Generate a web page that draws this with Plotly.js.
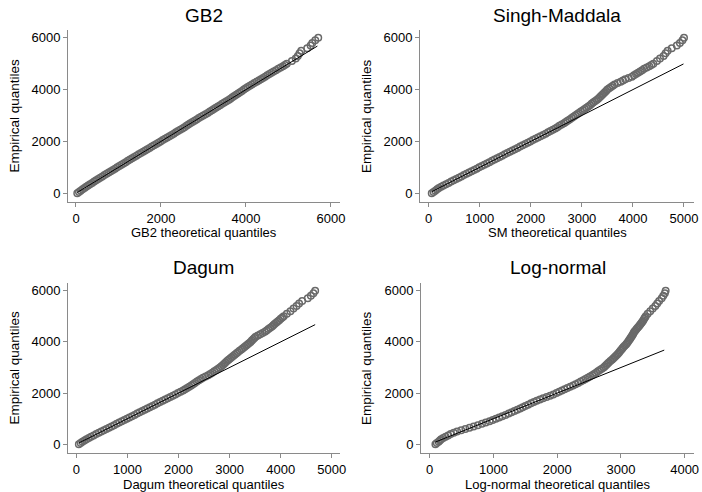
<!DOCTYPE html>
<html>
<head>
<meta charset="utf-8">
<script src="https://cdn.plot.ly/plotly-3.0.1.min.js"></script>
<style>html,body{margin:0;padding:0;background:#fff;}#chart{width:702px;height:492px;}</style>
</head>
<body>
<div id="chart"></div>
<script>
// Empirical quantiles (shared by all four panels)
const empiricalQ = [
  0,50,100,150,200,250,300,350,400,450,500,550,600,650,700,750,800,850,900,950,
  1000,1050,1100,1150,1200,1250,1300,1350,1400,1450,1500,1550,1600,1650,1700,1750,1800,1850,1900,1950,
  2000,2050,2100,2150,2200,2250,2300,2350,2400,2450,2500,2550,2600,2650,2700,2750,2800,2850,2900,2950,
  3000,3050,3100,3150,3200,3250,3300,3350,3400,3450,3500,3550,3600,3650,3700,3750,3800,3850,3900,3950,
  4000,4050,4100,4150,4200,4250,4300,4350,4400,4450,4500,4550,4600,4650,4700,4750,4800,4850,4900,4950,
  5000,5100,5200,5300,5400,5500,5600,5700,5800,5900,6000];

// Theoretical quantiles
const gb2Q = [
  30,70,110,155,200,240,285,330,380,428,475,522,570,620,670,720,770,820,870,920,
  970,1020,1070,1120,1170,1220,1270,1320,1370,1422,1475,1528,1580,1630,1680,1732,1785,1838,1890,1940,
  1990,2042,2095,2148,2200,2250,2300,2350,2400,2452,2505,2552,2600,2645,2690,2740,2790,2840,2890,2942,
  2995,3048,3100,3150,3200,3245,3290,3340,3390,3440,3490,3540,3590,3635,3680,3725,3770,3815,3860,3905,
  3950,3995,4040,4090,4140,4195,4250,4300,4350,4400,4450,4500,4550,4600,4650,4705,4760,4815,4870,4915,
  4960,5080,5170,5220,5260,5300,5440,5520,5560,5630,5700];
const smQ = [
  60,95,130,165,200,245,290,340,390,440,490,540,590,640,690,740,790,840,890,940,
  990,1040,1090,1140,1190,1240,1290,1340,1390,1440,1490,1540,1590,1640,1690,1740,1790,1840,1890,1940,
  1990,2040,2090,2140,2190,2240,2290,2338,2385,2432,2480,2520,2560,2605,2650,2685,2720,2760,2800,2835,
  2870,2905,2940,2980,3020,3055,3090,3125,3160,3190,3220,3255,3290,3320,3350,3375,3400,3425,3450,3475,
  3500,3535,3570,3605,3640,3700,3760,3805,3850,3915,3980,4020,4060,4100,4140,4180,4220,4270,4320,4360,
  4400,4470,4530,4600,4640,4680,4760,4860,4920,4970,5000];
const dagumQ = [
  50,85,120,160,200,245,290,340,390,440,490,540,590,640,690,740,790,840,890,940,
  990,1040,1090,1140,1190,1240,1290,1340,1390,1440,1490,1540,1590,1640,1690,1740,1790,1840,1890,1940,
  1990,2040,2090,2130,2170,2210,2250,2285,2320,2360,2400,2440,2480,2530,2580,2620,2660,2700,2740,2775,
  2810,2840,2870,2895,2920,2950,2980,3010,3040,3070,3100,3130,3160,3195,3230,3260,3290,3320,3350,3380,
  3410,3435,3460,3485,3510,3555,3600,3645,3690,3725,3760,3795,3830,3855,3880,3910,3940,3970,4000,4030,
  4060,4120,4190,4250,4310,4360,4420,4530,4590,4640,4674];
const lognormQ = [
  90,112,140,160,180,212,250,290,330,378,430,495,560,625,690,755,820,880,940,990,
  1040,1090,1140,1190,1240,1285,1330,1375,1420,1460,1500,1545,1590,1635,1680,1730,1780,1835,1890,1940,
  1990,2032,2075,2118,2160,2205,2250,2290,2330,2370,2410,2445,2480,2515,2550,2580,2610,2640,2670,2700,
  2730,2750,2770,2790,2810,2835,2860,2880,2900,2920,2940,2958,2975,2992,3010,3025,3040,3060,3080,3095,
  3110,3125,3140,3152,3165,3178,3190,3200,3210,3228,3245,3262,3280,3295,3310,3325,3340,3352,3365,3378,
  3390,3420,3460,3500,3540,3570,3600,3640,3665,3690,3702];

// Reference (45-degree) line end points per panel
const gb2Line = [30, 5680];
const smLine = [60, 4990];
const dagumLine = [50, 4674];
const lognormLine = [90, 3680];

const panelTitles = ["GB2", "Singh-Maddala", "Dagum", "Log-normal"];
const xTitles = ["GB2 theoretical quantiles", "SM theoretical quantiles", "Dagum theoretical quantiles", "Log-normal theoretical quantiles"];
const yTitle = "Empirical quantiles";
const xTicks = [[0,2000,4000,6000],[0,1000,2000,3000,4000,5000],[0,1000,2000,3000,4000,5000],[0,1000,2000,3000,4000]];
const yTicks = [0,2000,4000,6000];

const theo = [gb2Q, smQ, dagumQ, lognormQ];
const lines = [gb2Line, smLine, dagumLine, lognormLine];
const xRanges = [[-188,6212],[-170,5196],[-162,5160],[-136,4147]];
const yRange = [-338, 6300];

const W = 702, H = 492;
const xDom = [[68/W, 340/W],[420/W, 694/W],[68/W, 340/W],[421/W, 694/W]];
const yDom = [[1-202/H, 1-30/H],[1-202/H, 1-30/H],[1-453/H, 1-283/H],[1-453/H, 1-283/H]];
const titleY = [15, 15, 267, 267];
const xTitleY = [232, 232, 484.5, 484.5];
const yTitleX = [13.5, 366, 13.5, 366];

const FONT = "Liberation Sans, Arial, sans-serif";
const axisGray = "#8a8a8a";

const traces = [];
const layout = {
  width: W, height: H,
  margin: {l:0, r:0, t:0, b:0},
  paper_bgcolor: "#fff", plot_bgcolor: "#fff",
  showlegend: false,
  font: {family: FONT, size: 13, color: "#000"},
  annotations: []
};

for (let i = 0; i < 4; i++) {
  const xa = i === 0 ? "x" : "x" + (i+1);
  const ya = i === 0 ? "y" : "y" + (i+1);
  traces.push({
    type: "scatter", mode: "markers", x: theo[i], y: empiricalQ,
    xaxis: xa, yaxis: ya,
    marker: {symbol: "circle-open", size: 6.5, color: "rgb(105,105,105)", line: {width: 1.5}},
    hoverinfo: "skip"
  });
  traces.push({
    type: "scatter", mode: "lines", x: lines[i], y: lines[i],
    xaxis: xa, yaxis: ya,
    line: {color: "#000", width: 1},
    hoverinfo: "skip"
  });
  const common = {
    showline: true, linecolor: axisGray, linewidth: 1,
    ticks: "outside", ticklen: 4, tickcolor: axisGray, tickwidth: 1,
    showgrid: false, zeroline: false,
    tickfont: {family: FONT, size: 13, color: "#000"},
    automargin: false, fixedrange: true
  };
  layout["xaxis" + (i === 0 ? "" : i+1)] = Object.assign({}, common, {
    domain: xDom[i], anchor: ya, range: xRanges[i],
    tickmode: "array", tickvals: xTicks[i], ticktext: xTicks[i].map(String)
  });
  layout["yaxis" + (i === 0 ? "" : i+1)] = Object.assign({}, common, {
    domain: yDom[i], anchor: xa, range: yRange,
    tickmode: "array", tickvals: yTicks, ticktext: yTicks.map(String)
  });
  // panel title
  layout.annotations.push({
    text: panelTitles[i], xref: "paper", yref: "paper",
    x: (xDom[i][0] + xDom[i][1]) / 2, y: 1 - titleY[i]/H,
    xanchor: "center", yanchor: "middle", showarrow: false,
    font: {family: FONT, size: 19, color: "#000"}
  });
  // x axis title
  layout.annotations.push({
    text: xTitles[i], xref: "paper", yref: "paper",
    x: (xDom[i][0] + xDom[i][1]) / 2, y: 1 - xTitleY[i]/H,
    xanchor: "center", yanchor: "middle", showarrow: false,
    font: {family: FONT, size: 13, color: "#000"}
  });
  // y axis title
  layout.annotations.push({
    text: yTitle, xref: "paper", yref: "paper", textangle: -90,
    x: yTitleX[i]/W, y: (yDom[i][0] + yDom[i][1]) / 2,
    xanchor: "center", yanchor: "middle", showarrow: false,
    font: {family: FONT, size: 13.5, color: "#000"}
  });
}

Plotly.newPlot("chart", traces, layout, {staticPlot: true, displayModeBar: false});
</script>
</body>
</html>
